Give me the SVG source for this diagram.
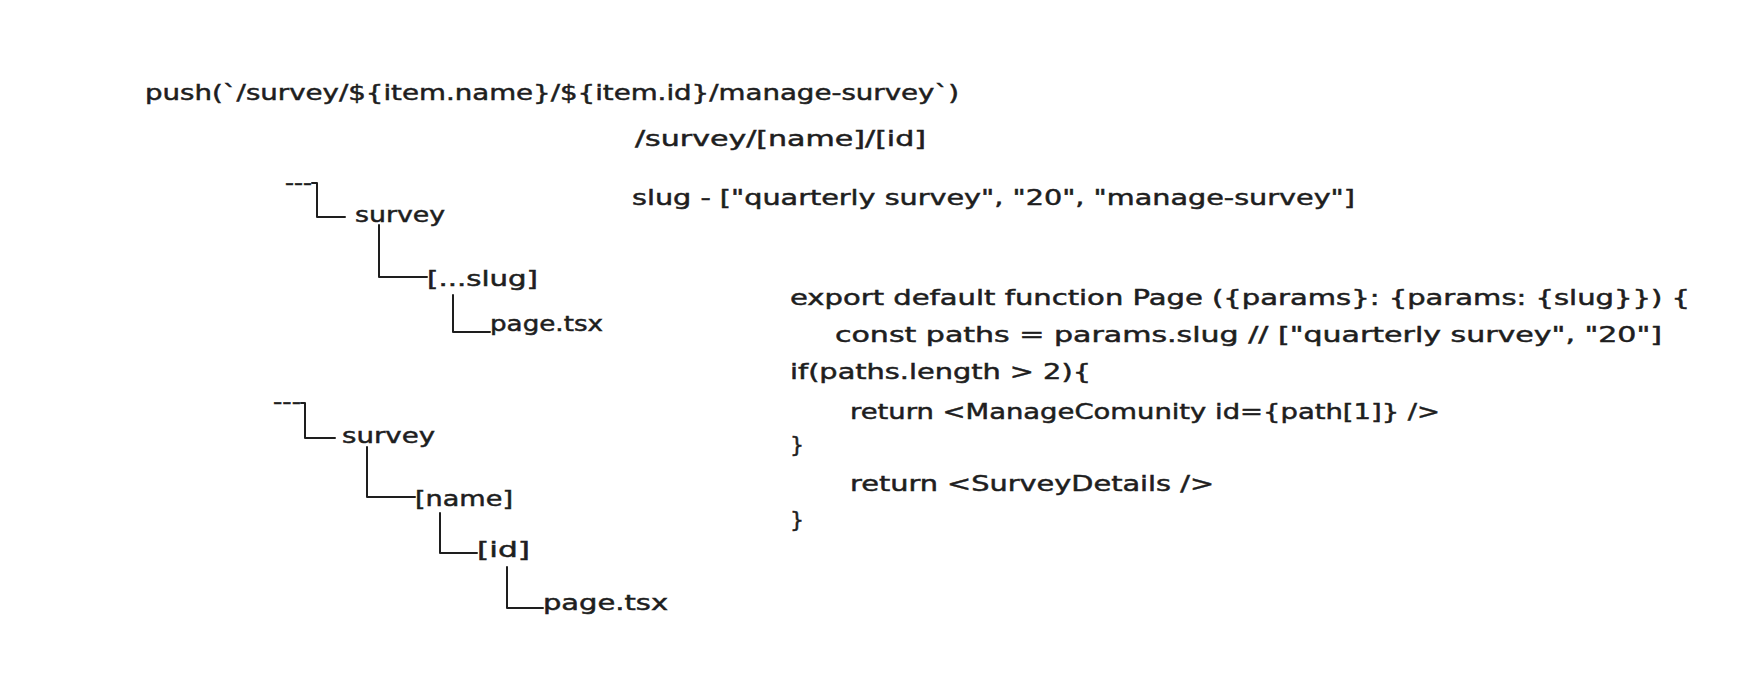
<svg xmlns="http://www.w3.org/2000/svg" width="1737" height="694" viewBox="0 0 1737 694">
  <style>
    .t { font-family: "DejaVu Sans", "Liberation Sans", sans-serif; font-size: 22px; fill: #1e1e1e; stroke: #1e1e1e; stroke-width: 0.5; }
    .c { fill: none; stroke: #1e1e1e; stroke-width: 2; stroke-linecap: round; stroke-linejoin: round; }
  </style>
  <rect width="1737" height="694" fill="#ffffff"/>

  <g id="push-text">
    <text class="t" x="145" y="100" textLength="814" lengthAdjust="spacingAndGlyphs">push(`/survey/${item.name}/${item.id}/manage-survey`)</text>
  </g>
  <g id="route-text">
    <text class="t" x="635" y="146" textLength="291" lengthAdjust="spacingAndGlyphs">/survey/[name]/[id]</text>
  </g>
  <g id="slug-text">
    <text class="t" x="632" y="205" textLength="723" lengthAdjust="spacingAndGlyphs">slug - ["quarterly survey", "20", "manage-survey"]</text>
  </g>

  <!-- Tree 1 -->
  <g id="tree1-root"><text class="t" x="285" y="190" textLength="27" lengthAdjust="spacingAndGlyphs">---</text></g>
  <g id="tree1-survey"><text class="t" x="355" y="222" textLength="90" lengthAdjust="spacingAndGlyphs">survey</text></g>
  <g id="tree1-slug"><text class="t" x="427" y="286" textLength="111" lengthAdjust="spacingAndGlyphs">[...slug]</text></g>
  <g id="tree1-page"><text class="t" x="490" y="331" textLength="113" lengthAdjust="spacingAndGlyphs">page.tsx</text></g>

  <!-- Tree 2 -->
  <g id="tree2-root"><text class="t" x="273" y="409" textLength="28" lengthAdjust="spacingAndGlyphs">---</text></g>
  <g id="tree2-survey"><text class="t" x="342" y="443" textLength="93" lengthAdjust="spacingAndGlyphs">survey</text></g>
  <g id="tree2-name"><text class="t" x="415" y="506" textLength="98" lengthAdjust="spacingAndGlyphs">[name]</text></g>
  <g id="tree2-id"><text class="t" x="477" y="557" textLength="53" lengthAdjust="spacingAndGlyphs">[id]</text></g>
  <g id="tree2-page"><text class="t" x="543" y="610" textLength="125" lengthAdjust="spacingAndGlyphs">page.tsx</text></g>

  <!-- Code block -->
  <g id="code-block">
    <text class="t" x="790" y="305" textLength="900" lengthAdjust="spacingAndGlyphs">export default function Page ({params}: {params: {slug}}) {</text>
    <text class="t" x="835" y="342" textLength="827" lengthAdjust="spacingAndGlyphs">const paths = params.slug // ["quarterly survey", "20"]</text>
    <text class="t" x="790" y="379" textLength="301" lengthAdjust="spacingAndGlyphs">if(paths.length &gt; 2){</text>
    <text class="t" x="850" y="419" textLength="590" lengthAdjust="spacingAndGlyphs">return &lt;ManageComunity id={path[1]} /&gt;</text>
    <text class="t" x="790" y="452" textLength="14" lengthAdjust="spacingAndGlyphs">}</text>
    <text class="t" x="850" y="491" textLength="364" lengthAdjust="spacingAndGlyphs">return &lt;SurveyDetails /&gt;</text>
    <text class="t" x="790" y="527" textLength="14" lengthAdjust="spacingAndGlyphs">}</text>
  </g>

  <g id="connectors">
    <path class="c" d="M 312 183 H 317 V 217 H 345"/>
    <path class="c" d="M 379 225 V 277 H 427"/>
    <path class="c" d="M 453 295 V 332 H 490"/>
    <path class="c" d="M 301 403 H 305 V 438 H 335"/>
    <path class="c" d="M 367 447 V 497 H 415"/>
    <path class="c" d="M 440 513 V 553 H 477"/>
    <path class="c" d="M 507 567 V 608 H 543"/>
  </g>
</svg>
